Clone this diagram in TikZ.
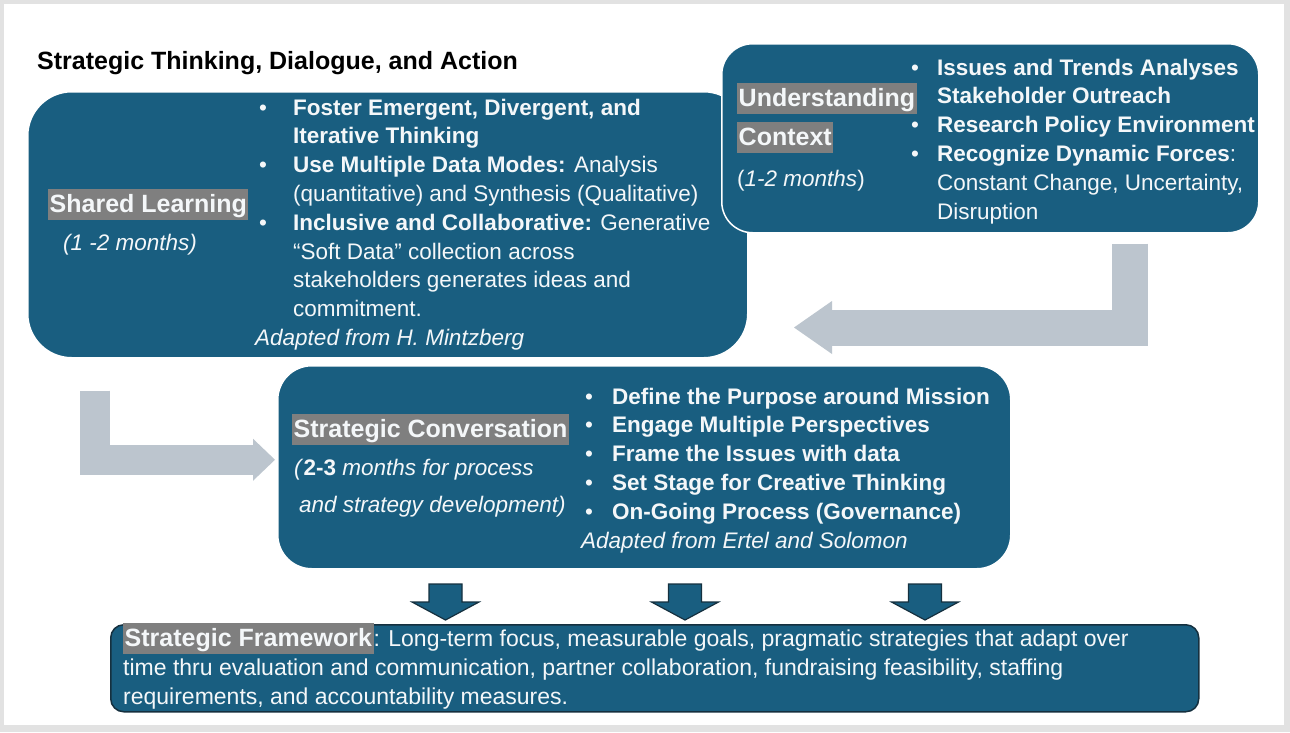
\documentclass[tikz,border=0pt]{standalone}
\usepackage{fontspec}
\setmainfont{Liberation Sans}
\usetikzlibrary{arrows.meta,calc}
\definecolor{boxblue}{HTML}{195E80}
\definecolor{hlgray}{HTML}{7F7F7F}
\definecolor{arrowgray}{HTML}{BCC5CE}
\definecolor{slidegray}{HTML}{E2E2E2}
\definecolor{edgedark}{HTML}{15303F}
\definecolor{textwhite}{HTML}{F4F7F9}
\newcommand{\hl}[1]{{\setlength{\fboxsep}{1.5pt}\colorbox{hlgray}{\rule[-6pt]{0pt}{28pt}\fontsize{25}{29}\selectfont\bfseries #1}}}
\begin{document}
\begin{tikzpicture}[x=1pt, y=-1pt, line cap=butt, line join=miter,
    panel/.style={fill=boxblue, draw=white, line width=1.5pt, anchor=north west, inner sep=0pt},
    body/.style={font=\fontsize{22.5}{28.8}\selectfont, text=textwhite, inner sep=0pt, anchor=base west},
    backarrow/.style={draw=arrowgray, line width=#1}]
	\fill[slidegray] (0,0) rectangle (1290,732);
	\fill[white] (4,4) rectangle (1284,725);
	\useasboundingbox (0,0) rectangle (1290,732);
	\node[anchor=base west, inner sep=0pt, font=\fontsize{25}{29}\selectfont\bfseries] (title) at (37,69) {Strategic Thinking, Dialogue, and Action};
	% shared learning
	\node[panel, rounded corners=44pt, minimum width=720pt, minimum height=266pt] (learn) at (27,91) {};
	\node[body] (learnlbl) at (48,212) {\hl{Shared Learning}};
	\node[body] (learntime) at (63,250) {\itshape (1 -2 months)};
	\node[body] (learnlist) at (259,115) {\begin{tabular}[t]{@{}p{34pt}@{}l@{}}
		\textbullet & \textbf{Foster Emergent, Divergent, and}\\
		& \textbf{Iterative Thinking}\\
		\textbullet & \textbf{Use Multiple Data Modes:} Analysis\\
		& (quantitative) and Synthesis (Qualitative)\\
		\textbullet & \textbf{Inclusive and Collaborative:} Generative\\
		& “Soft Data” collection across\\
		& stakeholders generates ideas and\\
		& commitment.
	\end{tabular}};
	\node[body] (learnsrc) at (255,345) {\itshape Adapted from H. Mintzberg};
	% understanding context
	\node[panel, rounded corners=31pt, minimum width=537pt, minimum height=189pt] (ctx) at (721,43) {};
	\node[body] (ctxlist) at (911,75) {\begin{tabular}[t]{@{}p{26pt}@{}l@{}}
		\textbullet & \textbf{Issues and Trends Analyses}\\
		& \textbf{Stakeholder Outreach}\\
		\textbullet & \textbf{Research Policy Environment}\\
		\textbullet & \textbf{Recognize Dynamic Forces}:\\
		& Constant Change, Uncertainty,\\
		& Disruption
	\end{tabular}};
	\node[body] (ctxlbl) at (737,106) {\hl{Understanding}};
	\node[body] (ctxlbltwo) at (737,145) {\hl{Context}};
	\node[body] (ctxtime) at (737,186) {(\textit{1-2 months})};
	% strategic conversation
	\node[panel, rounded corners=34pt, minimum width=733pt, minimum height=203pt] (conv) at (277,365) {};
	\node[body] (convlbl) at (292,437) {\hl{Strategic Conversation}};
	\node[body] (convtime) at (294,475) {\textit{(}\textbf{2-3}\textit{ months for process}};
	\node[body] (convtimetwo) at (299,512) {\textit{and strategy development)}};
	\node[body] (convlist) at (585,404) {\begin{tabular}[t]{@{}p{27pt}@{}l@{}}
		\textbullet & \textbf{Define the Purpose around Mission}\\
		\textbullet & \textbf{Engage Multiple Perspectives}\\
		\textbullet & \textbf{Frame the Issues with data}\\
		\textbullet & \textbf{Set Stage for Creative Thinking}\\
		\textbullet & \textbf{On-Going Process (Governance)}
	\end{tabular}};
	\node[body] (convsrc) at (581,548) {\itshape Adapted from Ertel and Solomon};
	% strategic framework
	\node[panel, draw=edgedark, rounded corners=13pt, minimum width=1088pt, minimum height=87pt] (frame) at (110,624) {};
	\node[body, font=\fontsize{23}{29}\selectfont] (frametext) at (123,646) {\begin{tabular}[t]{@{}l@{}}
		\hl{Strategic Framework}: Long-term focus, measurable goals, pragmatic strategies that adapt over\\
		time thru evaluation and communication, partner collaboration, fundraising feasibility, staffing\\
		requirements, and accountability measures.
	\end{tabular}};
	% arrows
	\coordinate (backtip) at (794,327.5);
	\draw[backarrow=36pt, -{Triangle[length=38pt,width=53pt,line width=0pt]}] ($(ctx.south east)+(-130,10)$) |- (backtip);
	\draw[backarrow=30pt, -{Triangle[length=22pt,width=42pt,line width=0pt]}] ($(learn.south west)+(68,32)$) |- ([shift={(-2,-7.5)}]conv.west);
	\foreach \x in {445.5,685,925}
		\filldraw[fill=boxblue, draw=edgedark, line width=1.2pt, line join=miter] (\x-16.5,584) -- (\x+16.5,584) -- (\x+16.5,602) -- (\x+33.5,602) -- (\x,620) -- (\x-33.5,602) -- (\x-16.5,602) -- cycle;
\end{tikzpicture}
\end{document}
